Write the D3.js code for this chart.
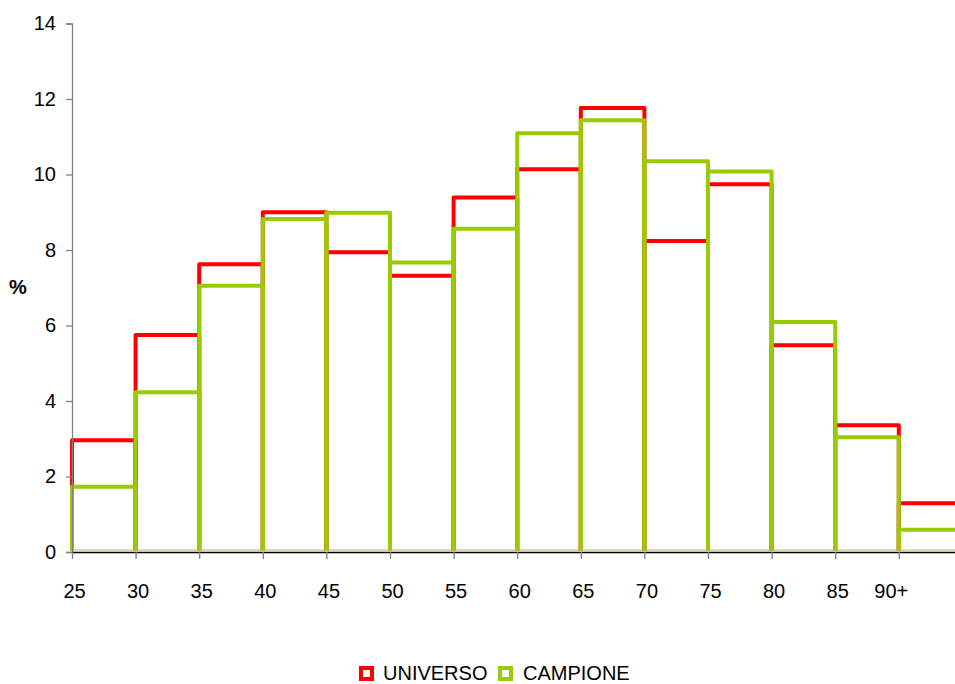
<!DOCTYPE html>
<html>
<head>
<meta charset="utf-8">
<script src="https://cdn.jsdelivr.net/npm/d3@7"></script>
<style>
  html, body { margin: 0; padding: 0; background: #fff; }
  svg { display: block; font-family: "Liberation Sans", Arial, sans-serif; }
</style>
</head>
<body>
<svg id="chart" width="955" height="684"></svg>
<script>
// Age classes (lower bound of each 5-year band) and their tick labels
const ageStarts = [25, 30, 35, 40, 45, 50, 55, 60, 65, 70, 75, 80, 85, 90];
const tickLabels = ["25", "30", "35", "40", "45", "50", "55", "60", "65", "70", "75", "80", "85", "90+"];
// Percentage share per age class
const universo = [2.96, 5.75, 7.62, 9.0, 7.94, 7.32, 9.39, 10.14, 11.76, 8.24, 9.74, 5.48, 3.36, 1.29];
const campione = [1.73, 4.23, 7.05, 8.82, 8.99, 7.67, 8.56, 11.09, 11.44, 10.35, 10.08, 6.09, 3.04, 0.59];
const yTicks = [0, 2, 4, 6, 8, 10, 12, 14];

const series = [
  { name: "UNIVERSO", values: universo, color: "#ff0000" },
  { name: "CAMPIONE", values: campione, color: "#99cc00" }
];

const svg = d3.select("#chart");
const binWidth = 5;

const x = d3.scaleLinear().domain([25, 95]).range([72, 962.4]);
const y = d3.scaleLinear().domain([0, 14]).range([552, 23.5]);

// Step-shaped outlines, one per age class, open at the base
const plot = svg.append("g");
series.forEach(s => {
  plot.append("g")
    .selectAll("path")
    .data(ageStarts.map((a, i) => ({ a, v: s.values[i] })))
    .join("path")
    .attr("d", d => {
      const x0 = x(d.a), x1 = x(d.a + binWidth), y0 = y(0), y1 = y(d.v);
      return `M${x0},${y0 - 1}L${x0},${y1}L${x1},${y1}L${x1},${y0 - 1}`;
    })
    .attr("fill", "none")
    .attr("stroke", s.color)
    .attr("stroke-width", 4)
    .attr("stroke-linejoin", "round");
});

// Faint base line of the bars
plot.append("line")
  .attr("x1", x(25)).attr("x2", 955)
  .attr("y1", y(0) - 2).attr("y2", y(0) - 2)
  .attr("stroke", "#d2a86a").attr("stroke-width", 1);

// Y axis
const yAxis = svg.append("g")
  .attr("transform", `translate(${x(25)},0)`)
  .call(d3.axisLeft(y).tickValues(yTicks).tickSize(6).tickPadding(10).tickFormat(d3.format("d")));
yAxis.select(".domain").attr("stroke", "#808080").attr("stroke-width", 1.3);
yAxis.selectAll(".tick line").attr("stroke", "#808080").attr("stroke-width", 1.3);
yAxis.selectAll("text").attr("font-size", 20).attr("fill", "#000")
  .attr("font-family", "'Liberation Sans', Arial, sans-serif");

// X axis
const xAxis = svg.append("g")
  .attr("transform", `translate(0,${y(0)})`)
  .call(d3.axisBottom(x).tickValues(ageStarts).tickSize(7).tickPadding(0)
    .tickFormat((d, i) => tickLabels[i]));
xAxis.select(".domain").attr("d", `M${x(25)},0.5H955`).attr("stroke", "#000").attr("stroke-width", 1.3);
xAxis.selectAll(".tick line").attr("stroke", "#808080").attr("stroke-width", 1.3);
xAxis.selectAll("text")
  .attr("font-size", 20).attr("fill", "#000")
  .attr("font-family", "'Liberation Sans', Arial, sans-serif")
  .attr("y", 46).attr("dy", 0)
  .attr("dx", (d, i) => i === tickLabels.length - 1 ? -8 : 2);

// Y axis title
svg.append("text")
  .attr("x", 18).attr("y", 294)
  .attr("text-anchor", "middle")
  .attr("font-size", 20).attr("font-weight", "bold")
  .text("%");

// Legend
const legendPos = [{ sx: 361, tx: 383 }, { sx: 500, tx: 523 }];
const legend = svg.append("g");
series.forEach((s, i) => {
  legend.append("rect")
    .attr("x", legendPos[i].sx).attr("y", 668)
    .attr("width", 11).attr("height", 11)
    .attr("fill", "#fff").attr("stroke", s.color).attr("stroke-width", 4);
  legend.append("text")
    .attr("x", legendPos[i].tx).attr("y", 680)
    .attr("font-size", 20).attr("fill", "#000")
    .text(s.name);
});
</script>
</body>
</html>
